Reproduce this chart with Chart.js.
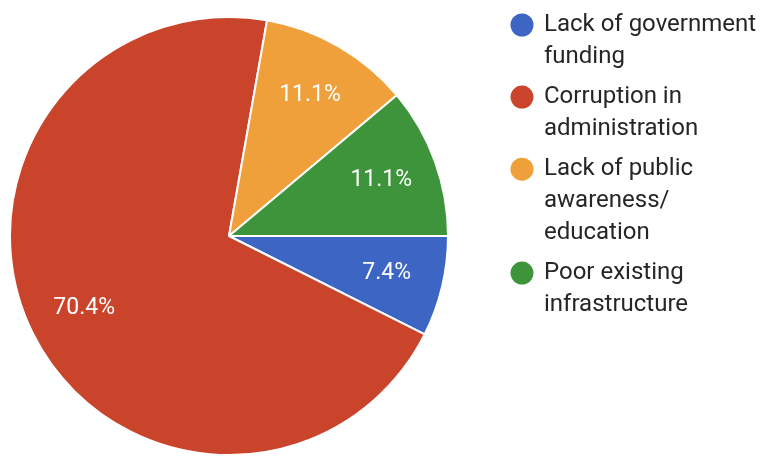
<!DOCTYPE html>
<html>
<head>
<meta charset="utf-8">
<script src="https://cdn.jsdelivr.net/npm/chart.js@4"></script>
<style>
  html, body { margin: 0; padding: 0; background: #fff; }
  #wrap { width: 760px; height: 457px; }
</style>
</head>
<body>
<div id="wrap"><canvas id="chPie" width="760" height="457"></canvas></div>
<script>
// responses (27 total)
var categories = [
  ['Lack of government', 'funding'],
  ['Corruption in', 'administration'],
  ['Lack of public', 'awareness/', 'education'],
  ['Poor existing', 'infrastructure']
];
var counts = [2, 19, 3, 3];
var colors = ['#3c65c4', '#c9442a', '#efa03a', '#3d943a'];

// percentage labels inside the slices
var sliceLabels = {
  id: 'sliceLabels',
  afterDatasetsDraw: function(chart) {
    var ctx = chart.ctx;
    var meta = chart.getDatasetMeta(0);
    var total = counts.reduce(function(a, b) { return a + b; }, 0);
    ctx.save();
    ctx.fillStyle = '#ffffff';
    ctx.font = '23px Roboto';
    ctx.textAlign = 'center';
    ctx.textBaseline = 'middle';
    meta.data.forEach(function(arc, i) {
      var p = arc.getProps(['x', 'y', 'startAngle', 'endAngle', 'outerRadius']);
      var mid = (p.startAngle + p.endAngle) / 2;
      var r = p.outerRadius * 0.74;
      var txt = (counts[i] / total * 100).toFixed(1) + '%';
      ctx.fillText(txt, p.x + Math.cos(mid) * r, p.y + Math.sin(mid) * r);
    });
    ctx.restore();
  }
};

// legend with wrapped lines on the right
var sideLegend = {
  id: 'sideLegend',
  afterDraw: function(chart) {
    var ctx = chart.ctx;
    var y = 25;
    ctx.save();
    ctx.font = '24px Roboto';
    ctx.textBaseline = 'middle';
    ctx.textAlign = 'left';
    categories.forEach(function(lines, i) {
      ctx.fillStyle = colors[i];
      ctx.beginPath();
      ctx.arc(522, y, 11.5, 0, Math.PI * 2);
      ctx.fill();
      ctx.fillStyle = '#262626';
      lines.forEach(function(line, j) {
        ctx.fillText(line, 544, y + j * 31.8);
      });
      y += lines.length * 31.8 + 8.5;
    });
    ctx.restore();
  }
};

new Chart(document.getElementById('chPie'), {
  type: 'pie',
  data: {
    labels: categories,
    datasets: [{
      data: counts,
      backgroundColor: colors,
      borderColor: '#ffffff',
      borderWidth: 2
    }]
  },
  options: {
    responsive: false,
    animation: false,
    rotation: 90,
    layout: { padding: { left: 9, right: 311, top: 16, bottom: 1 } },
    plugins: {
      legend: { display: false },
      tooltip: { enabled: false }
    }
  },
  plugins: [sliceLabels, sideLegend]
});
</script>
</body>
</html>
